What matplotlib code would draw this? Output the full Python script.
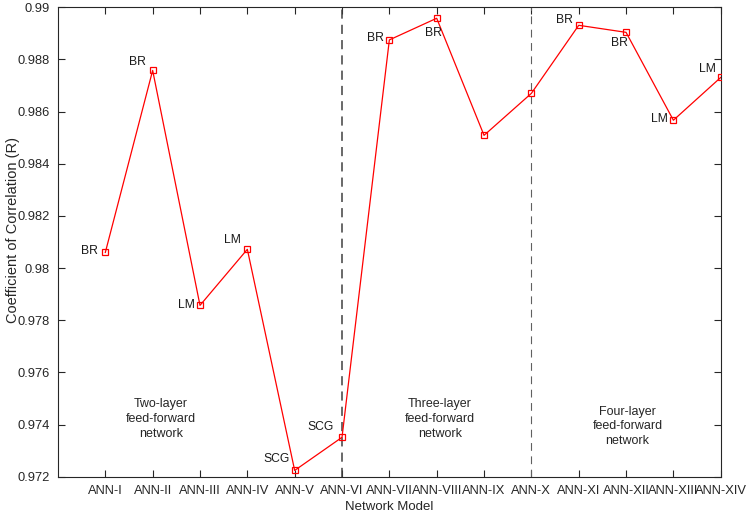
import matplotlib
matplotlib.use("Agg")
import matplotlib.pyplot as plt
from matplotlib.ticker import FixedLocator

plt.rcParams['font.family'] = ['Liberation Sans', 'DejaVu Sans']

models = ["ANN-I", "ANN-II", "ANN-III", "ANN-IV", "ANN-V", "ANN-VI", "ANN-VII",
          "ANN-VIII", "ANN-IX", "ANN-X", "ANN-XI", "ANN-XII", "ANN-XIII", "ANN-XIV"]
r_values = [0.98060, 0.98758, 0.97857, 0.98072, 0.97224, 0.97351, 0.98875,
            0.98958, 0.98509, 0.98670, 0.98931, 0.98904, 0.98567, 0.98731]
algorithms = ["BR", "BR", "LM", "LM", "SCG", "SCG", "BR",
              "BR", "", "", "BR", "BR", "LM", "LM"]
groups = ["Two-layer\nfeed-forward\nnetwork", "Three-layer\nfeed-forward\nnetwork",
          "Four-layer\nfeed-forward\nnetwork"]
y_ticks = [0.972, 0.974, 0.976, 0.978, 0.98, 0.982, 0.984, 0.986, 0.988, 0.99]

# label offsets (pixels) and alignment
label_off = [(-7, 1), (-7, 8), (-5, 0), (-6, 9), (-5, 11), (-8, 10), (-5, 2),
             (-3, -15), (0, 0), (0, 0), (-6, 5), (2, -11), (-6, 1), (-5, 8)]
label_ha = ["right", "right", "right", "right", "right", "right", "right",
            "center", "right", "right", "right", "right", "right", "right"]

fig = plt.figure(figsize=(7.51, 5.22), dpi=100)
ax = fig.add_axes([0.0772, 0.0868, 0.8825, 0.8992])

x = list(range(1, len(models) + 1))
ax.plot(x, r_values, color='#ff0000', lw=0.9, marker='s', markersize=5,
        markerfacecolor='none', markeredgecolor='#ff0000', markeredgewidth=0.9, zorder=3)

for xi, yi, lab, off, ha in zip(x, r_values, algorithms, label_off, label_ha):
    if lab:
        ax.annotate(lab, (xi, yi), xytext=off, textcoords='offset pixels',
                    ha=ha, va='center', fontsize=8.7, color='#1a1a1a')

ax.axvline(6, color='#404040', lw=1.1, ls=(0, (6, 4)), zorder=2)
ax.axvline(10, color='#606060', lw=0.8, ls=(0, (7, 5)), zorder=2)

ax.set_xlim(0, 14)
ax.set_ylim(0.972, 0.99)
ax.set_xticks(x)
ax.set_xticklabels(models)
ax.yaxis.set_major_locator(FixedLocator(y_ticks))
ax.set_yticklabels(["%g" % v for v in y_ticks])

for gx, gy, gt in zip([2.17, 8.07, 12.03], [0.97421, 0.97421, 0.97393], groups):
    ax.text(gx, gy, gt, ha='center', va='center', fontsize=9,
            color='#262626', linespacing=1.3)

ax.tick_params(direction='in', top=True, right=True, length=5, width=0.8,
               colors='#262626', labelsize=9.3, pad=6)
for s in ax.spines.values():
    s.set_color('#262626')
    s.set_linewidth(0.8)

ax.set_xlabel("Network Model", fontsize=9.5, color='#262626', labelpad=3)
ax.set_ylabel("Coefficient of Correlation (R)", fontsize=10.5, color='#262626')
ax.yaxis.set_label_coords(-0.057, 0.525)

fig.savefig("out.png", dpi=100, facecolor='white')
